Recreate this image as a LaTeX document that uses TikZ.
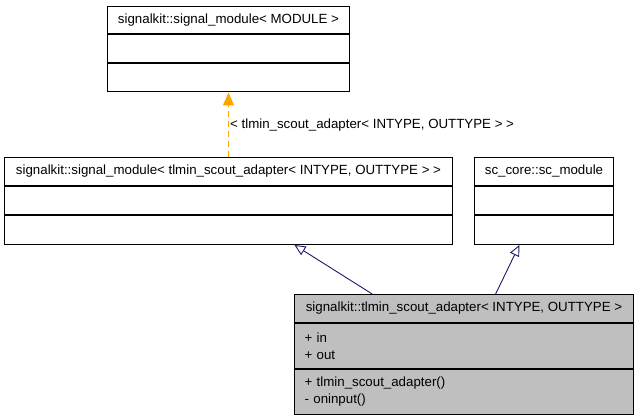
\documentclass[tikz,border=0pt]{standalone}
\usepackage{fontspec}
\setmainfont{Liberation Sans}
\usetikzlibrary{positioning,calc,arrows.meta}

\definecolor{edgeblue}{HTML}{191970}
\definecolor{edgeorange}{HTML}{FFA500}
\definecolor{classgray}{HTML}{BFBFBF}
\newcommand{\umlfont}{\fontsize{13.3}{17}\selectfont}

\tikzset{
	umlbox/.style={draw=black, line width=1pt, fill=white, inner xsep=10pt, inner ysep=0pt, font=\umlfont},
	umltitle/.style={umlbox, minimum height=28pt, align=center},
	umlpart/.style={umlbox, minimum height=#1, align=left},
	inherit/.style={draw=edgeblue, line width=0.9pt, -{Triangle[open, length=11pt, width=10pt, fill=white]}},
	templ/.style={draw=edgeorange, line width=1.3pt, dash pattern=on 6pt off 4pt, -{Triangle[length=13pt, width=11pt]}}
}

\begin{document}
\begin{tikzpicture}[x=1pt, y=-1pt]
		\useasboundingbox (0,0) rectangle (639,419);
		
		\node[umltitle, minimum width=242pt, minimum height=27.5pt, anchor=north west] (module) at (107,6) {signalkit::signal\_module< MODULE >};
		\node[umlpart=28pt, minimum width=242pt, below=0pt of module] (moduleattr) {};
		\node[umlpart=28pt, minimum width=242pt, below=0pt of moduleattr] (moduleops) {};
		
		\node[umltitle, minimum width=448pt, anchor=north west] (inst) at (4,157) {signalkit::signal\_module< tlmin\_scout\_adapter< INTYPE, OUTTYPE > >};
		\node[umlpart=28pt, minimum width=448pt, below=0pt of inst] (instattr) {};
		\node[umlpart=29pt, minimum width=448pt, below=0pt of instattr] (instops) {};
		
		\node[umltitle, minimum width=139pt, anchor=north west] (sccore) at (474,157) {sc\_core::sc\_module};
		\node[umlpart=28pt, minimum width=139pt, below=0pt of sccore] (sccoreattr) {};
		\node[umlpart=29pt, minimum width=139pt, below=0pt of sccoreattr] (sccoreops) {};
		
		\node[umltitle, minimum width=339pt, fill=classgray, anchor=north west] (adapter) at (294,294) {signalkit::tlmin\_scout\_adapter< INTYPE, OUTTYPE >};
		\node[umlpart=45pt, text width=319pt, fill=classgray, below=0pt of adapter] (adapterattr) {+ in\\+ out};
		\node[umlpart=45pt, text width=319pt, fill=classgray, below=0pt of adapterattr] (adapterops) {+ tlmin\_scout\_adapter()\\- oninput()};
		
		\draw[templ] (inst.north) -- node[right, inner sep=1pt, font=\umlfont] {< tlmin\_scout\_adapter< INTYPE, OUTTYPE > >} (moduleops.south);
		\draw[inherit] ($(adapter.north west)!0.23!(adapter.north east)$) -- ($(instops.south west)!0.647!(instops.south east)$);
		\draw[inherit] ($(adapter.north west)!0.593!(adapter.north east)$) -- ($(sccoreops.south west)!0.324!(sccoreops.south east)$);
	\end{tikzpicture}
\end{document}
